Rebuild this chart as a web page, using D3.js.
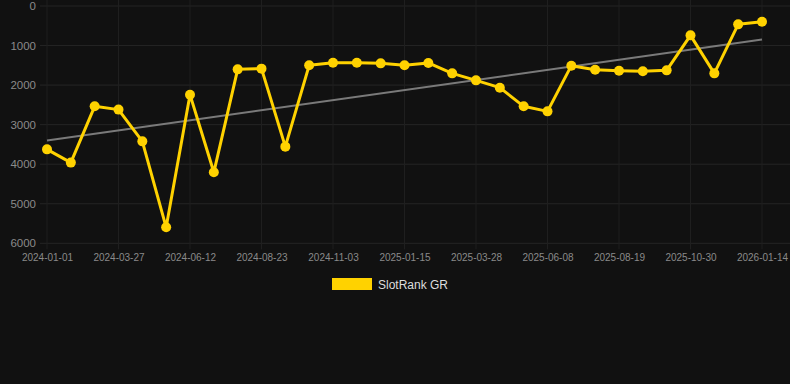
<!DOCTYPE html>
<html>
<head>
<meta charset="utf-8">
<script src="https://cdn.jsdelivr.net/npm/d3@7"></script>
<style>
  html, body { margin: 0; padding: 0; background: #111111; }
  svg { display: block; }
</style>
</head>
<body>
<div id="chart"></div>
<script>
// Data (rank values, lower is better; axis is reversed)
const seriesName = "SlotRank GR";
const values = [3625, 3960, 2537, 2620, 3422, 5596, 2242, 4205, 1602, 1584, 3556,
                1500, 1433, 1433, 1450, 1500, 1441, 1703, 1880, 2065, 2537, 2664,
                1509, 1610, 1635, 1652, 1627, 742, 1703, 464, 396];
const tickLabels = ["2024-01-01", "2024-03-27", "2024-06-12", "2024-08-23", "2024-11-03",
                    "2025-01-15", "2025-03-28", "2025-06-08", "2025-08-19", "2025-10-30", "2026-01-14"];
const tickEvery = 3;
const yTicks = [0, 1000, 2000, 3000, 4000, 5000, 6000];

const W = 790, H = 384;
const plot = { left: 47, right: 762, top: 6, bottom: 243.3 };

const svg = d3.select("#chart").append("svg").attr("width", W).attr("height", H);
svg.append("rect").attr("width", W).attr("height", H).attr("fill", "#111111");

const idx = values.map((d, i) => i);
const x = d3.scaleLinear().domain([0, values.length - 1]).range([plot.left, plot.right]);
const y = d3.scaleLinear().domain([0, 6000]).range([plot.top, plot.bottom]);

// Horizontal grid + y labels
const yAxis = d3.axisLeft(y).tickValues(yTicks).tickSize(0).tickPadding(0).tickFormat(d3.format("d"));
const gy = svg.append("g").attr("transform", `translate(${36},0)`).call(yAxis);
gy.select(".domain").remove();
gy.selectAll("text").attr("fill", "#8a8a8a").attr("font-family", "Arial, 'Liberation Sans', sans-serif")
  .attr("font-size", "11.5px").attr("dx", 0);

svg.append("g").selectAll("line").data(yTicks).join("line")
  .attr("x1", 40).attr("x2", W).attr("y1", d => y(d)).attr("y2", d => y(d))
  .attr("stroke", "#252525").attr("stroke-width", 1);

// Vertical grid + x labels
const xTickIdx = tickLabels.map((d, i) => i * tickEvery);
svg.append("g").selectAll("line").data(xTickIdx).join("line")
  .attr("x1", d => x(d)).attr("x2", d => x(d)).attr("y1", 0).attr("y2", plot.bottom + 6)
  .attr("stroke", "#1f1f1f").attr("stroke-width", 1);

const xAxis = d3.axisBottom(x).tickValues(xTickIdx).tickSize(0).tickPadding(0)
  .tickFormat(d => tickLabels[d / tickEvery]);
const gx = svg.append("g").attr("transform", `translate(0,${plot.bottom + 11})`).call(xAxis);
gx.select(".domain").remove();
gx.selectAll("text").attr("fill", "#8a8a8a").attr("font-family", "Arial, 'Liberation Sans', sans-serif")
  .attr("font-size", "10px");

// Trend line (least squares fit of the series)
const n = values.length;
const mx = d3.mean(idx), my = d3.mean(values);
const slope = d3.sum(idx, i => (i - mx) * (values[i] - my)) / d3.sum(idx, i => (i - mx) ** 2);
const icpt = my - slope * mx;
svg.append("line")
  .attr("x1", x(0)).attr("y1", y(icpt))
  .attr("x2", x(n - 1)).attr("y2", y(icpt + slope * (n - 1)))
  .attr("stroke", "#7a7a7a").attr("stroke-width", 2);

// Series line
const color = "#FFD200";
svg.append("path").datum(values)
  .attr("fill", "none").attr("stroke", color).attr("stroke-width", 3)
  .attr("stroke-linejoin", "round")
  .attr("d", d3.line().x((d, i) => x(i)).y(d => y(d)));

svg.append("g").selectAll("circle").data(values).join("circle")
  .attr("cx", (d, i) => x(i)).attr("cy", d => y(d)).attr("r", 5)
  .attr("fill", color);

// Legend
const lg = svg.append("g");
lg.append("rect").attr("x", 332).attr("y", 278).attr("width", 40).attr("height", 12).attr("fill", color);
lg.append("text").attr("x", 378).attr("y", 288.5).text(seriesName)
  .attr("fill", "#dddddd").attr("font-family", "Arial, 'Liberation Sans', sans-serif").attr("font-size", "12px");
</script>
</body>
</html>
